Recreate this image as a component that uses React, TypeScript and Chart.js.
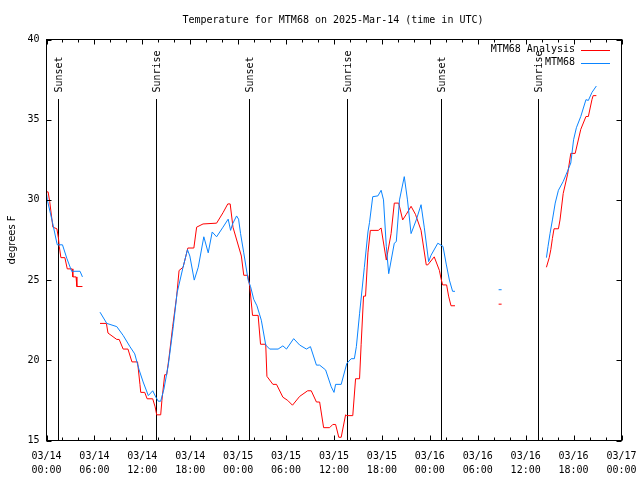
import React, { useEffect, useRef } from "react";
import { Chart, registerables } from "chart.js";

Chart.register(...registerables);

// ---- data (hours since 03/14 00:00 UTC) ----
const titleText = "Temperature for MTM68 on 2025-Mar-14 (time in UTC)";
const yAxisLabel = "degrees F";
const dateLabels = ["03/14", "03/14", "03/14", "03/14", "03/15", "03/15", "03/15", "03/15", "03/16", "03/16", "03/16", "03/16", "03/17"];
const timeLabels = ["00:00", "06:00", "12:00", "18:00", "00:00", "06:00", "12:00", "18:00", "00:00", "06:00", "12:00", "18:00", "00:00"];
const yTicks = [15, 20, 25, 30, 35, 40];

const sunHours = [1.47, 13.72, 25.35, 37.6, 49.35, 61.6];
const sunLabels = ["Sunset", "Sunrise", "Sunset", "Sunrise", "Sunset", "Sunrise"];

const seriesNames = ["MTM68 Analysis", "MTM68"];
const seriesColors = ["#ff0000", "#0a84ff"];

const analysisHours = [
  0, 0.2, 0.4, 0.8, 1.3, 1.5, 1.6, 1.8, 2.3, 2.6, 3.2, 3.3, 3.7, 3.8, 4.5, 5.5,
  6.7, 7.5, 7.7, 8.8, 9.1, 9.6, 10.2, 10.7, 11.4, 11.7, 11.8, 12.3, 12.6, 13.3, 13.6, 13.8, 14.3,
  14.45, 14.8, 15.05, 15.35, 15.8, 16.3, 16.6, 17.1, 17.7, 18.45, 18.8, 19.6, 21.3, 22.1, 22.7, 23.0,
  23.35, 24.4, 24.7, 25.2, 25.45, 25.8, 26.5, 26.8, 27.45, 27.6, 28.35, 28.8, 29.6, 30.2, 30.8, 31.7,
  32.7, 33.15, 33.8, 34.2, 34.7, 35.45, 35.85, 36.2, 36.6, 36.9, 37.45, 37.6, 38.35, 38.7, 39.2, 39.4,
  39.7, 39.95, 40.25, 40.55, 41.55, 41.9, 42.55, 43.15, 43.55, 44.1, 44.6, 45.05, 45.65, 46.2, 46.9,
  47.55, 47.75, 48.55, 49.2, 49.4, 49.6, 50.1, 50.35, 50.65, 51.15, 52,
  56.8, 57.5,
  62.6, 62.95, 63.15, 63.35, 63.55, 64.1, 64.3, 64.7, 65.25, 65.65, 66.2, 66.9, 67.55, 67.85, 68.3, 68.45, 68.85,
];
const analysisTemps = [
  30.5, 30.5, 29.9, 28.3, 28.2, 27.6, 27.1, 26.4, 26.4, 25.7, 25.7, 25.2, 25.2, 24.6, 24.6, null,
  22.3, 22.3, 21.7, 21.3, 21.3, 20.7, 20.7, 19.9, 19.9, 18.5, 18.0, 18.0, 17.6, 17.6, 17.1, 16.6, 16.6,
  17.5, 19.1, 19.1, 20.2, 22.1, 24.0, 25.6, 25.8, 27.0, 27.0, 28.3, 28.5, 28.55, 29.2, 29.75, 29.75,
  28.3, 26.5, 25.3, 25.3, 24.6, 22.8, 22.8, 21.0, 21.0, 19.0, 18.5, 18.5, 17.7, 17.5, 17.2, 17.75,
  18.1, 18.1, 17.4, 17.4, 15.8, 15.8, 16.0, 16.0, 15.2, 15.2, 16.6, 16.55, 16.55, 18.85, 18.85, 21.0,
  24.0, 24.0, 26.7, 28.1, 28.1, 28.25, 26.25, 27.9, 29.8, 29.8, 28.75, 29.1, 29.6, 29.1, 28.1,
  25.95, 25.95, 26.45, 25.6, 25.1, 24.7, 24.7, 24.0, 23.4, 23.4, null,
  23.5, null,
  25.8, 26.4, 26.9, 27.6, 28.2, 28.2, 28.75, 30.4, 31.6, 32.9, 32.9, 34.4, 35.2, 35.2, 36.25, 36.5, 36.5,
];

const stationHours = [
  0, 0.1, 0.75, 1.3, 1.35, 2.0, 2.55, 3.15, 4.2, 4.5, 5.5,
  6.7, 7.55, 8.8, 9.6, 10.45, 11.05, 11.6, 12.1, 12.75, 13.3, 13.7, 14.0, 14.3, 14.7, 15.25, 15.85,
  16.35, 17.05, 17.65, 17.95, 18.5, 19.0, 19.7, 20.25, 20.75, 21.3, 22.1, 22.75, 23.05, 23.3, 23.8,
  24.05, 24.3, 24.7, 25.25, 25.55, 25.95, 26.35, 26.9, 27.45, 27.95, 29.0, 29.6, 30.05, 30.95, 31.7,
  32.55, 33.05, 33.8, 34.2, 34.95, 35.65, 36.0, 36.2, 36.9, 37.6, 38.15, 38.55, 38.8, 39.2, 39.8,
  40.25, 40.45, 40.85, 41.5, 41.9, 42.2, 42.55, 42.85, 43.55, 43.8, 44.2, 44.8, 45.2, 45.65, 46.3,
  46.9, 47.3, 47.85, 48.15, 49.0, 49.65, 50.05, 50.45, 50.85, 51.15, 52,
  56.8, 57.5,
  62.6, 62.8, 63.05, 63.35, 63.7, 64.1, 64.7, 65.25, 65.65, 66.0, 66.35, 66.9, 67.55, 67.85, 68.3, 68.85,
];
const stationTemps = [
  30.4, 30.0, 28.6, 27.3, 27.2, 27.2, 26.35, 25.55, 25.55, 25.2, null,
  23.0, 22.3, 22.1, 21.55, 20.85, 20.4, 19.4, 18.65, 17.8, 18.1, 17.7, 17.45, 17.45, 18.2, 19.7, 22.0,
  24.2, 25.7, 26.9, 26.5, 25.0, 25.8, 27.7, 26.7, 28.0, 27.7, 28.3, 28.8, 28.1, 28.5, 29.0,
  28.8, 27.9, 26.7, 25.0, 24.6, 23.8, 23.4, 22.5, 20.95, 20.7, 20.7, 20.9, 20.7, 21.35, 20.95,
  20.7, 20.85, 19.7, 19.7, 19.4, 18.35, 18.0, 18.5, 18.5, 19.8, 20.1, 20.1, 20.85, 22.9, 25.8,
  28.0, 28.6, 30.2, 30.25, 30.6, 30.0, 27.1, 25.4, 27.3, 27.4, 30.0, 31.45, 30.0, 27.9, 28.75,
  29.7, 28.3, 26.15, 26.55, 27.3, 27.1, 26.0, 25.0, 24.3, 24.3, null,
  24.4, null,
  26.4, 27.1, 27.9, 28.75, 29.8, 30.6, 31.15, 31.8, 32.3, 33.75, 34.5, 35.2, 36.25, 36.2, 36.7, 37.1,
];

const MONO = "'DejaVu Sans Mono', monospace";

function toPoints(hours: number[], temps: (number | null)[]) {
  return hours.map((h, i) => ({ x: h, y: temps[i] }));
}

function isolatedRadius(ctx: any) {
  const data = ctx.dataset.data as { x: number; y: number | null }[];
  const i = ctx.dataIndex;
  if (data[i] == null || data[i].y == null) return 0;
  const prev = i > 0 ? data[i - 1].y : null;
  const next = i < data.length - 1 ? data[i + 1].y : null;
  return prev == null && next == null ? 1.5 : 0;
}

const decorPlugin = {
  id: "decor",
  beforeDatasetsDraw(chart: any) {
    const { ctx, chartArea } = chart;
    const xs = chart.scales.x;
    ctx.save();
    ctx.strokeStyle = "#000";
    ctx.lineWidth = 1;
    ctx.fillStyle = "#000";
    ctx.font = `10px ${MONO}`;
    sunHours.forEach((h, i) => {
      const px = Math.round(xs.getPixelForValue(h)) + 0.5;
      ctx.beginPath();
      ctx.moveTo(px, chartArea.top + 59.5);
      ctx.lineTo(px, chartArea.bottom);
      ctx.stroke();
      ctx.save();
      ctx.translate(px + 1, chartArea.top + 53);
      ctx.rotate(-Math.PI / 2);
      ctx.textAlign = "left";
      ctx.textBaseline = "middle";
      ctx.fillText(sunLabels[i], 0, 0);
      ctx.restore();
    });
    ctx.restore();
  },
  afterDraw(chart: any) {
    const { ctx, chartArea } = chart;
    const xs = chart.scales.x;
    const ys = chart.scales.y;
    const { left, right, top, bottom } = chartArea;
    ctx.save();
    ctx.strokeStyle = "#000";
    ctx.lineWidth = 1;
    // frame
    ctx.strokeRect(left, top, right - left, bottom - top);
    // x ticks (inward, top and bottom)
    ctx.beginPath();
    for (let h = 0; h <= 72; h += 2) {
      const px = Math.round(xs.getPixelForValue(h)) + 0.5;
      const len = h % 6 === 0 ? 5 : 3;
      ctx.moveTo(px, bottom);
      ctx.lineTo(px, bottom - len);
      ctx.moveTo(px, top);
      ctx.lineTo(px, top + len);
    }
    // y ticks (inward, left and right)
    yTicks.forEach((v) => {
      const py = Math.round(ys.getPixelForValue(v)) + 0.5;
      ctx.moveTo(left, py);
      ctx.lineTo(left + 5, py);
      ctx.moveTo(right, py);
      ctx.lineTo(right - 5, py);
    });
    ctx.stroke();

    // title
    ctx.fillStyle = "#000";
    ctx.font = `10px ${MONO}`;
    ctx.textAlign = "center";
    ctx.textBaseline = "middle";
    ctx.fillText(titleText, 333, 20);

    // y axis label
    ctx.save();
    ctx.font = "10px 'DejaVu Sans', sans-serif";
    ctx.translate(12, (top + bottom) / 2);
    ctx.rotate(-Math.PI / 2);
    ctx.textAlign = "center";
    ctx.textBaseline = "middle";
    ctx.fillText(yAxisLabel, 0, 0);
    ctx.restore();

    // legend
    ctx.font = `10px ${MONO}`;
    ctx.textAlign = "right";
    ctx.textBaseline = "middle";
    seriesNames.forEach((name, i) => {
      const ly = top + 10 + i * 13;
      ctx.fillStyle = "#000";
      ctx.fillText(name, 575, ly);
      ctx.strokeStyle = seriesColors[i];
      ctx.beginPath();
      ctx.moveTo(581, Math.round(ly) + 0.5);
      ctx.lineTo(610, Math.round(ly) + 0.5);
      ctx.stroke();
    });
    ctx.restore();
  },
};

export default function App() {
  const canvasRef = useRef<HTMLCanvasElement | null>(null);

  useEffect(() => {
    const canvas = canvasRef.current;
    if (!canvas) return;
    const chart = new Chart(canvas, {
      type: "line",
      data: {
        datasets: [
          {
            label: seriesNames[0],
            data: toPoints(analysisHours, analysisTemps),
            borderColor: seriesColors[0],
            backgroundColor: seriesColors[0],
            borderWidth: 1,
            pointRadius: isolatedRadius,
            pointStyle: "line",
            pointBorderColor: seriesColors[0],
            pointBorderWidth: 1,
            spanGaps: false,
            tension: 0,
            order: 1,
          },
          {
            label: seriesNames[1],
            data: toPoints(stationHours, stationTemps),
            borderColor: seriesColors[1],
            backgroundColor: seriesColors[1],
            borderWidth: 1,
            pointRadius: isolatedRadius,
            pointStyle: "line",
            pointBorderColor: seriesColors[1],
            pointBorderWidth: 1,
            spanGaps: false,
            tension: 0,
            order: 0,
          },
        ],
      },
      options: {
        animation: false,
        responsive: false,
        devicePixelRatio: 1,
        layout: { padding: { left: 0, right: 18.5, top: 39.5, bottom: 0 } },
        plugins: {
          legend: { display: false },
          title: { display: false },
          tooltip: { enabled: false },
        },
        scales: {
          x: {
            type: "linear",
            min: 0,
            max: 72,
            grid: { display: false, drawTicks: false },
            border: { display: false },
            ticks: {
              stepSize: 6,
              autoSkip: false,
              maxRotation: 0,
              padding: 9,
              color: "#000",
              font: { family: MONO, size: 10, lineHeight: 1.4 },
              callback: (v: any) => {
                const i = Math.round(Number(v) / 6);
                return [dateLabels[i], timeLabels[i]];
              },
            },
            afterFit: (scale: any) => {
              scale.height = 39.5;
              scale.paddingLeft = 0;
              scale.paddingRight = 0;
            },
          },
          y: {
            min: 15,
            max: 40,
            grid: { display: false, drawTicks: false },
            border: { display: false },
            ticks: {
              stepSize: 5,
              padding: 7,
              color: "#000",
              font: { family: MONO, size: 10 },
              callback: (v: any) => String(v),
            },
            afterFit: (scale: any) => {
              scale.width = 46.5;
              scale.paddingTop = 0;
              scale.paddingBottom = 0;
            },
          },
        },
      },
      plugins: [decorPlugin],
    });
    return () => chart.destroy();
  }, []);

  return (
    <div style={{ position: "absolute", left: 0, top: 0, width: 640, height: 480, background: "#fff" }}>
      <canvas ref={canvasRef} width={640} height={480} style={{ display: "block" }} />
    </div>
  );
}
